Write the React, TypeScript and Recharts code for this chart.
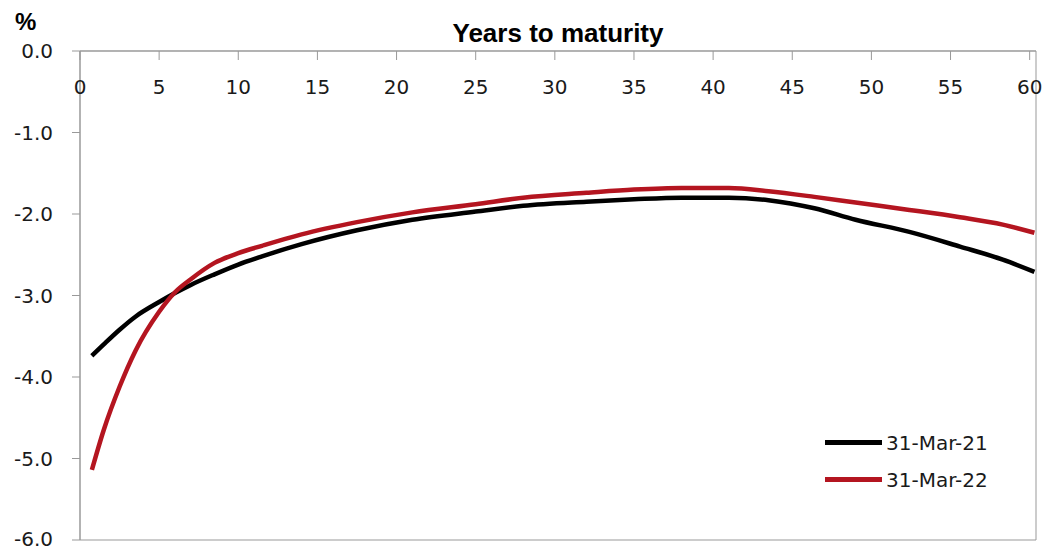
import { LineChart, Line, XAxis, YAxis, ReferenceArea } from "recharts";

const years = [
  0.75, 1.5, 2.5, 3.5, 5, 6, 7, 8.5, 10, 11.5, 14, 17.5, 21, 25, 28, 32, 35, 38, 41,
  43.5, 46.4, 49, 52.4, 55.6, 58.3, 60.3,
];
const mar21 = [
  -3.74, -3.6, -3.42, -3.26, -3.08, -2.97, -2.87, -2.74, -2.62, -2.52, -2.37, -2.2, -2.07,
  -1.97, -1.9, -1.85, -1.82, -1.8, -1.8, -1.83, -1.93, -2.07, -2.22, -2.4, -2.56, -2.71,
];
const mar22 = [
  -5.14, -4.65, -4.12, -3.68, -3.2, -2.96, -2.8, -2.6, -2.48, -2.39, -2.25, -2.1, -1.98,
  -1.88, -1.8, -1.74, -1.7, -1.68, -1.68, -1.72, -1.79, -1.86, -1.95, -2.04, -2.13, -2.23,
];
const xTicks = [0, 5, 10, 15, 20, 25, 30, 35, 40, 45, 50, 55, 60];
const yTicks = [0, -1, -2, -3, -4, -5, -6];
const seriesInfo = [
  { key: "a", name: "31-Mar-21", color: "#000000" },
  { key: "b", name: "31-Mar-22", color: "#B41520" },
];

const data = years.map((t, i) => ({ t, a: mar21[i], b: mar22[i] }));

const FONT = "'DejaVu Sans', Verdana, sans-serif";
const AXIS = "#999999";

// legend sits inside the plot, bottom right, like the Excel original
const LegendBox = () => (
  <div style={{ position: "absolute", left: 825, top: 424, fontFamily: FONT, fontSize: 20, color: "#1a1a1a" }}>
    {seriesInfo.map((e) => (
      <div key={e.name} style={{ display: "flex", alignItems: "center", height: 37 }}>
        <span style={{ width: 57, height: 5, background: e.color, marginRight: 4 }} />
        <span>{e.name}</span>
      </div>
    ))}
  </div>
);

export default function App() {
  return (
    <div style={{ position: "absolute", left: 0, top: 0, width: 1051, height: 550, background: "#fff" }}>
      <LineChart width={1051} height={550} data={data} margin={{ top: 51, right: 15, bottom: 10, left: 0 }}>
        <XAxis
          dataKey="t"
          type="number"
          domain={[0, 60.4]}
          ticks={xTicks}
          orientation="top"
          mirror
          stroke={AXIS}
          tickSize={9}
          tickMargin={20}
          tick={{ fill: "#1a1a1a", fontSize: 20, fontFamily: FONT }}
        />
        <YAxis
          type="number"
          domain={[-6, 0]}
          ticks={yTicks}
          width={80}
          stroke={AXIS}
          tickSize={8}
          tickMargin={19}
          tickFormatter={(v: number) => (v === 0 ? "0.0" : v.toFixed(1))}
          tick={{ fill: "#1a1a1a", fontSize: 20, fontFamily: FONT }}
        />
        <ReferenceArea x1={0} x2={60.4} y1={-6} y2={0} fill="none" stroke={AXIS} strokeWidth={1} />
        {seriesInfo.map((s) => (
          <Line
            key={s.key}
            type="monotone"
            dataKey={s.key}
            name={s.name}
            stroke={s.color}
            strokeWidth={4.5}
            dot={false}
            isAnimationActive={false}
          />
        ))}
      </LineChart>
      <div
        style={{
          position: "absolute", left: 15, top: 8, fontFamily: "'Liberation Sans', Arial, sans-serif",
          fontWeight: "bold", fontSize: 24, color: "#000",
        }}
      >
        %
      </div>
      <div
        style={{
          position: "absolute", left: 0, width: 1116, top: 18, textAlign: "center",
          fontFamily: "'Liberation Sans', Arial, sans-serif", fontWeight: "bold", fontSize: 26, color: "#000",
        }}
      >
        Years to maturity
      </div>
      <LegendBox />
    </div>
  );
}
